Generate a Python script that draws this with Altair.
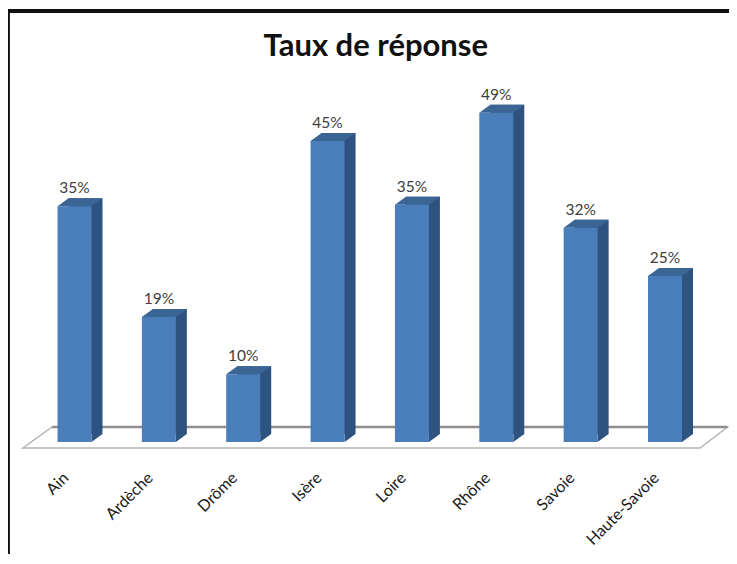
import altair as alt
import pandas as pd

departements = ["Ain", "Ardèche", "Drôme", "Isère", "Loire", "Rhône", "Savoie", "Haute-Savoie"]
taux = [0.351, 0.186, 0.101, 0.448, 0.353, 0.49, 0.319, 0.247]

df = pd.DataFrame({"dep": departements, "taux": taux})
floor_df = pd.DataFrame({"dep": departements[:1], "taux": [0.0]})

W, H = 721, 546

x = alt.X(
    "dep:N",
    sort=departements,
    title=None,
    scale=alt.Scale(type="point", domain=departements, range=[66.5, 657], padding=0),
    axis=alt.Axis(
        domain=False, ticks=False, grid=False, labelAngle=-45, labelAlign="right",
        labelBaseline="middle", labelFont="Lato", labelFontSize=16, labelColor="#1a1a1a",
        labelPadding=0, offset=-79, labelOffset=-9, labelOverlap=False, labelBound=False,
        labelFlush=False,
    ),
)
y = alt.Y(
    "taux:Q", title=None,
    scale=alt.Scale(domain=[0, 0.5], range=[434, 98], nice=False, zero=True),
    axis=None,
)
base = alt.Chart(df).encode(x=x, y=y)
floor_base = alt.Chart(floor_df).encode(x=x, y=y)

floor = floor_base.mark_point(
    shape="M-51.5,6 L625.5,6 L653,-15 L-22.5,-15 Z",
    size=4, filled=False, stroke="#b4b4b4", strokeWidth=1.5, opacity=1,
)
floor_back = floor_base.mark_point(
    shape="M-22.5,-15 L653,-15",
    size=4, filled=False, stroke="#8e8e8e", strokeWidth=2.5, opacity=1,
)

side = base.mark_bar(size=34, color="#2f5380", xOffset=11, yOffset=-8)
side_foot = base.mark_point(
    shape="M17,0 L28,-8 L17,-8 Z", size=4, filled=True, color="#2f5380", opacity=1,
).encode(y=alt.value(434))
top = base.mark_point(
    shape="M-17,0 L-6,-8 L28,-8 L17,0 Z", size=4, filled=True, color="#3a6595", opacity=1,
)
front = base.mark_bar(size=34, color="#4a7ebb")
labels = base.mark_text(
    dy=-18, font="Lato", fontSize=15.5, color="#404040", baseline="middle",
).encode(text=alt.Text("taux:Q", format=".0%"))

frame_top = base.mark_rule(color="#111111", strokeWidth=3).encode(
    x=alt.value(0), x2=alt.value(W), y=alt.value(3)
)
frame_left = base.mark_rule(color="#111111", strokeWidth=1.5).encode(
    x=alt.value(0.5), y=alt.value(2), y2=alt.value(H)
)

chart = (
    alt.layer(frame_top, frame_left, floor, floor_back, side, side_foot, top, front, labels)
    .properties(
        width=W, height=H, padding=0, background="white",
        autosize=alt.AutoSizeParams(type="none"),
        title=alt.TitleParams(
            "Taux de réponse", font="Lato", fontSize=31, fontWeight="bold", color="#111111",
            anchor="start", dx=257, dy=86, offset=0, baseline="bottom",
        ),
    )
    .configure_view(stroke=None)
)

chart.save("out.html", embed_options={"renderer": "svg", "actions": False})
